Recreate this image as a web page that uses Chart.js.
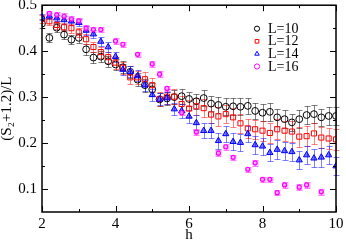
<!DOCTYPE html>
<html>
<head>
<meta charset="utf-8">
<script src="https://cdn.jsdelivr.net/npm/chart.js@4.4.1/dist/chart.umd.min.js"></script>
<style>
    html, body { margin: 0; padding: 0; background: #ffffff; }
    #wrap { width: 346px; height: 242px; }
</style>
</head>
<body>
<div id="wrap"><canvas id="entropyChart" width="346" height="242"></canvas></div>
<script>
/* ==========================================================
   (S2 + 1.2) / L  versus  h
==========================================================*/

// ---------- data ----------

const seriesLabels = ["L=10", "L=12", "L=14", "L=16"];

const hValues = [
    2.0, 2.2, 2.4, 2.6, 2.8, 3.0, 3.2, 3.4, 3.6, 3.8,
    4.0, 4.2, 4.4, 4.6, 4.8, 5.0, 5.2, 5.4, 5.6, 5.8,
    6.0, 6.2, 6.4, 6.6, 6.8, 7.0, 7.2, 7.4, 7.6, 7.8,
    8.0, 8.2, 8.4, 8.6, 8.8, 9.0, 9.2, 9.4, 9.6, 9.8, 10.0
];

const hValuesL16 = [
    2.2, 2.4, 2.6, 2.8, 3.0, 3.2, 3.4, 3.6, 4.0, 4.2,
    4.6, 5.0, 5.2, 5.4, 5.8, 6.2, 6.8, 7.0, 7.2, 7.6,
    7.8, 8.0, 8.2, 8.4, 8.6, 9.0, 9.2, 9.6
];

const entropyL10 = [
    0.460, 0.429, 0.451, 0.436, 0.425, 0.429, 0.404, 0.386, 0.388, 0.378,
    0.371, 0.365, 0.355, 0.338, 0.326, 0.317, 0.295, 0.297, 0.300, 0.302,
    0.296, 0.291, 0.298, 0.286, 0.283, 0.279, 0.280, 0.279, 0.281, 0.270,
    0.266, 0.268, 0.256, 0.252, 0.245, 0.252, 0.261, 0.263, 0.256, 0.259, 0.259
];

const errorL10 = [
    0.010, 0.010, 0.010, 0.010, 0.010, 0.011, 0.012, 0.012, 0.012, 0.012,
    0.013, 0.013, 0.013, 0.014, 0.014, 0.014, 0.015, 0.015, 0.015, 0.016,
    0.016, 0.016, 0.017, 0.017, 0.017, 0.018, 0.018, 0.018, 0.018, 0.018,
    0.019, 0.019, 0.019, 0.019, 0.019, 0.019, 0.019, 0.019, 0.019, 0.019, 0.019
];

const entropyL12 = [
    0.470, 0.465, 0.457, 0.452, 0.450, 0.441, 0.426, 0.409, 0.398, 0.387,
    0.375, 0.364, 0.343, 0.343, 0.339, 0.326, 0.296, 0.301, 0.301, 0.285,
    0.275, 0.280, 0.276, 0.262, 0.258, 0.263, 0.256, 0.243, 0.232, 0.230,
    0.227, 0.222, 0.230, 0.227, 0.225, 0.214, 0.215, 0.221, 0.212, 0.210, 0.208
];

const errorL12 = [
    0.008, 0.008, 0.009, 0.009, 0.010, 0.010, 0.011, 0.011, 0.012, 0.012,
    0.013, 0.013, 0.014, 0.014, 0.015, 0.015, 0.016, 0.016, 0.017, 0.017,
    0.018, 0.018, 0.019, 0.019, 0.020, 0.020, 0.020, 0.021, 0.021, 0.021,
    0.022, 0.022, 0.022, 0.022, 0.022, 0.022, 0.022, 0.022, 0.022, 0.022, 0.022
];

const entropyL14 = [
    0.474, 0.476, 0.472, 0.468, 0.465, 0.462, 0.445, 0.437, 0.421, 0.409,
    0.388, 0.360, 0.355, 0.346, 0.326, 0.305, 0.295, 0.298, 0.274, 0.270,
    0.258, 0.244, 0.227, 0.227, 0.205, 0.220, 0.203, 0.201, 0.220, 0.196,
    0.193, 0.179, 0.186, 0.183, 0.181, 0.163, 0.174, 0.167, 0.169, 0.174, 0.150
];

const errorL14 = [
    0.007, 0.007, 0.007, 0.008, 0.008, 0.008, 0.009, 0.009, 0.010, 0.010,
    0.011, 0.011, 0.012, 0.012, 0.012, 0.013, 0.013, 0.014, 0.014, 0.015,
    0.015, 0.016, 0.016, 0.017, 0.017, 0.017, 0.018, 0.018, 0.018, 0.019,
    0.019, 0.019, 0.020, 0.020, 0.020, 0.020, 0.020, 0.020, 0.020, 0.020, 0.020
];

const entropyL16 = [
    0.482, 0.479, 0.476, 0.470, 0.466, 0.450, 0.447, 0.447, 0.422, 0.415,
    0.393, 0.372, 0.350, 0.319, 0.266, 0.224, 0.178, 0.192, 0.169, 0.143,
    0.157, 0.121, 0.121, 0.092, 0.109, 0.104, 0.109, 0.094
];

const errorL16 = [
    0.006, 0.006, 0.006, 0.006, 0.006, 0.006, 0.006, 0.006, 0.006, 0.006,
    0.006, 0.006, 0.006, 0.006, 0.006, 0.006, 0.006, 0.006, 0.006, 0.006,
    0.006, 0.006, 0.006, 0.006, 0.006, 0.006, 0.006, 0.006
];

const xTickValues = [2, 4, 6, 8, 10];
const xMinorTicks = [3, 5, 7, 9];
const yTickValues = [0.1, 0.2, 0.3, 0.4, 0.5];
const yMinorTicks = [0.15, 0.25, 0.35, 0.45];

const xTitle = "h";
const yTitle = "(S\u2082+1.2)/L";

const SERIF = "'Liberation Serif', 'DejaVu Serif', serif";

// =====================================
// Helpers
// =====================================

function toPoints(xs, ys) {
    return xs.map((x, i) => ({ x: x, y: ys[i] }));
}

// =====================================
// Error bars (drawn under the markers)
// =====================================

const errorBarPlugin = {

    id: "errorBars",

    beforeDatasetsDraw(chart) {

        const { ctx, scales } = chart;

        const cap = 3;

        chart.data.datasets.forEach(ds => {

            ctx.save();

            ctx.strokeStyle = ds.errorColor;

            ctx.lineWidth = 1;

            ds.data.forEach((p, i) => {

                const err = ds.errors[i];

                const px = Math.round(scales.x.getPixelForValue(p.x)) + 0.5;

                const top = Math.round(scales.y.getPixelForValue(p.y + err)) + 0.5;

                const bottom = Math.round(scales.y.getPixelForValue(p.y - err)) + 0.5;

                ctx.beginPath();

                ctx.moveTo(px, top);
                ctx.lineTo(px, bottom);

                ctx.moveTo(px - cap, top);
                ctx.lineTo(px + cap, top);

                ctx.moveTo(px - cap, bottom);
                ctx.lineTo(px + cap, bottom);

                ctx.stroke();

                if (ds.errorFill) {
                    ctx.fillStyle = ds.errorFill;
                    ctx.fillRect(px - cap, top, cap * 2, bottom - top);
                }

            });

            ctx.restore();

        });

    }

};

// =====================================
// Frame, inward ticks and legend
// =====================================

const framePlugin = {

    id: "frame",

    afterDraw(chart) {

        const { ctx, chartArea: a, scales } = chart;

        ctx.save();

        ctx.strokeStyle = "#000";

        ctx.lineWidth = 1.5;

        ctx.strokeRect(a.left, a.top, a.right - a.left, a.bottom - a.top);

        ctx.lineWidth = 1;

        const xTick = (v, len) => {
            const px = Math.round(scales.x.getPixelForValue(v)) + 0.5;
            ctx.beginPath();
            ctx.moveTo(px, a.bottom);
            ctx.lineTo(px, a.bottom - len);
            ctx.moveTo(px, a.top);
            ctx.lineTo(px, a.top + len);
            ctx.stroke();
        };

        const yTick = (v, len) => {
            const py = Math.round(scales.y.getPixelForValue(v)) + 0.5;
            ctx.beginPath();
            ctx.moveTo(a.left, py);
            ctx.lineTo(a.left + len, py);
            ctx.moveTo(a.right, py);
            ctx.lineTo(a.right - len, py);
            ctx.stroke();
        };

        xTickValues.forEach(v => xTick(v, 6));
        xMinorTicks.forEach(v => xTick(v, 3));
        yTickValues.forEach(v => yTick(v, 6));
        yMinorTicks.forEach(v => yTick(v, 3));

        // legend, top right inside the plot
        const lx = a.left + 215;
        let ly = a.top + 23.5;

        ctx.font = "14px " + SERIF;
        ctx.textBaseline = "middle";
        ctx.textAlign = "left";

        chart.data.datasets.forEach(ds => {

            ctx.strokeStyle = ds.borderColor;
            ctx.fillStyle = ds.legendFill;
            ctx.lineWidth = 1;

            Chart.helpers.drawPoint(ctx, {
                pointStyle: ds.pointStyle,
                radius: 2.6,
                rotation: 0,
                borderWidth: 1
            }, lx, ly);

            ctx.fillStyle = "#000";
            ctx.fillText(ds.label, lx + 11, ly + 0.5);

            ly += 12.6;

        });

        ctx.restore();

    }

};

// =====================================
// Chart
// =====================================

const ctx = document.getElementById("entropyChart").getContext("2d");

new Chart(ctx, {

    type: "scatter",

    data: {

        datasets: [

            {
                label: seriesLabels[0],
                data: toPoints(hValues, entropyL10),
                errors: errorL10,
                errorColor: "rgba(0,0,0,0.5)",
                pointStyle: "circle",
                pointRadius: 3.4,
                borderColor: "#000000",
                backgroundColor: "rgba(0,0,0,0)",
                legendFill: "rgba(0,0,0,0)",
                pointBorderWidth: 1,
                order: 4
            },

            {
                label: seriesLabels[1],
                data: toPoints(hValues, entropyL12),
                errors: errorL12,
                errorColor: "rgba(255,0,0,0.5)",
                pointStyle: "rect",
                pointRadius: 3.6,
                borderColor: "#ff0000",
                backgroundColor: "rgba(255,0,0,0)",
                legendFill: "rgba(255,0,0,0)",
                pointBorderWidth: 1,
                order: 3
            },

            {
                label: seriesLabels[2],
                data: toPoints(hValues, entropyL14),
                errors: errorL14,
                errorColor: "rgba(0,0,255,0.5)",
                pointStyle: "triangle",
                pointRadius: 3.6,
                borderColor: "#0000ff",
                backgroundColor: "rgba(0,0,255,0.55)",
                legendFill: "rgba(0,0,255,0)",
                pointBorderWidth: 1,
                order: 2
            },

            {
                label: seriesLabels[3],
                data: toPoints(hValuesL16, entropyL16),
                errors: errorL16,
                errorColor: "rgba(255,0,255,0.45)",
                errorFill: "rgba(255,0,255,0.25)",
                pointStyle: "circle",
                pointRadius: 2,
                borderColor: "#ff00ff",
                backgroundColor: "rgba(255,180,255,0.8)",
                legendFill: "rgba(255,0,255,0)",
                pointBorderWidth: 1.2,
                order: 1
            }

        ]

    },

    options: {

        responsive: false,

        animation: false,

        devicePixelRatio: 1,

        layout: {
            padding: { top: 5, right: 10, left: 0, bottom: 0 }
        },

        plugins: {
            legend: { display: false },
            tooltip: { enabled: false }
        },

        scales: {

            x: {
                type: "linear",
                min: 2,
                max: 10,
                grid: { display: false, drawTicks: false },
                border: { display: false },
                afterBuildTicks(scale) {
                    scale.ticks = xTickValues.map(v => ({ value: v }));
                },
                afterFit(scale) {
                    scale.height = 30;
                    scale.paddingLeft = 0;
                    scale.paddingRight = 0;
                },
                ticks: {
                    color: "#000",
                    padding: 3,
                    maxRotation: 0,
                    font: { family: SERIF, size: 15 }
                },
                title: {
                    display: true,
                    text: xTitle,
                    color: "#000",
                    padding: { top: 0, bottom: -1 },
                    font: { family: SERIF, size: 15, lineHeight: 1 }
                }
            },

            y: {
                type: "linear",
                min: 0.05,
                max: 0.5,
                grid: { display: false, drawTicks: false },
                border: { display: false },
                afterBuildTicks(scale) {
                    scale.ticks = yTickValues.map(v => ({ value: v }));
                },
                afterFit(scale) {
                    scale.width = 42;
                    scale.paddingTop = 0;
                    scale.paddingBottom = 0;
                },
                ticks: {
                    color: "#000",
                    padding: 5,
                    font: { family: SERIF, size: 15 },
                    callback: v => v.toFixed(1)
                },
                title: {
                    display: true,
                    text: yTitle,
                    color: "#000",
                    padding: 0,
                    font: { family: SERIF, size: 15, lineHeight: 1 }
                }
            }

        }

    },

    plugins: [errorBarPlugin, framePlugin]

});
</script>
</body>
</html>
